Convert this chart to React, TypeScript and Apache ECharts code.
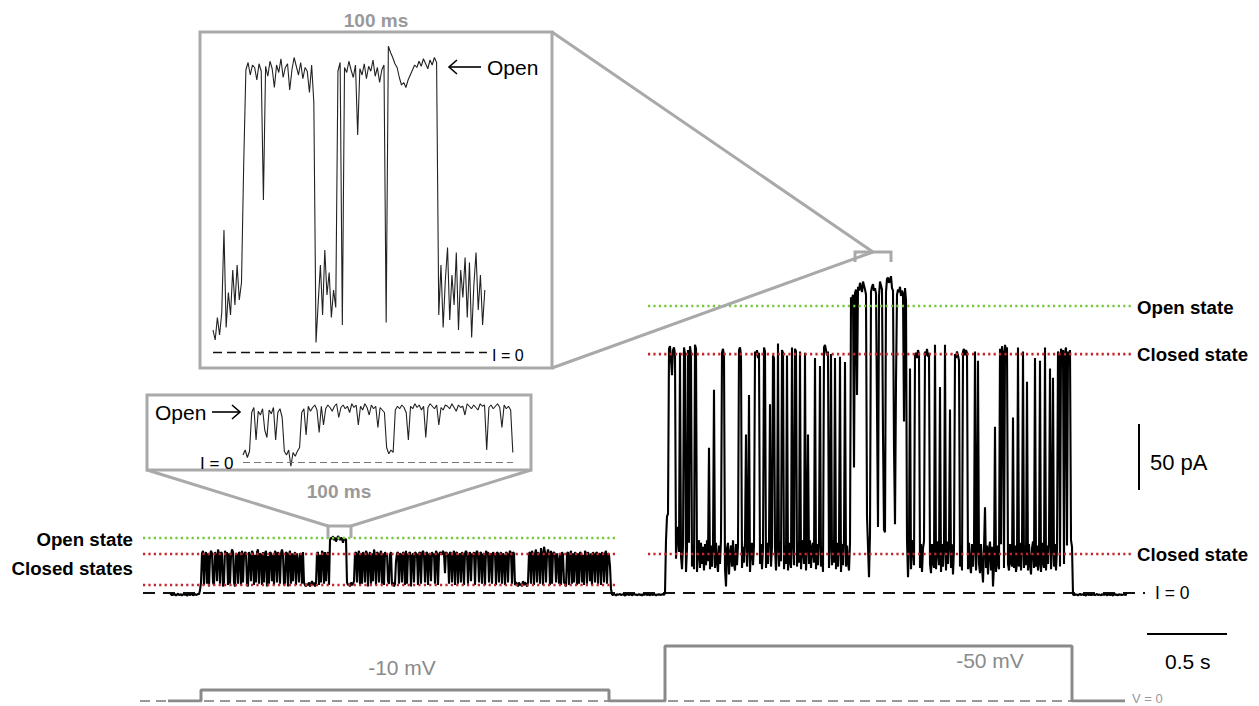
import React, { useEffect, useRef } from "react";
import * as echarts from "echarts";

// ---- main recording: sampled current (pA), one sample every SAMPLE_MS ----
const SAMPLE_MS = 6.25;

const BASELINE_PRE = [-1.2, -0.6, -1.8, -1.0, -1.5, -0.8, -2.0, -1.1, -0.5, -1.6,
  -1.3, -0.9, -1.9, -1.2, -0.7, -1.5, -1.0, -2.1, -1.3, -0.8,
  -1.6, -1.1, -0.6, -1.8, -1.4, -0.9, -1.5, -1.2, -0.7, -1.0];

const SEG_MINUS10 = [
  2, 8, 30, 32, 6, 29, 31, 7, 30, 5, 28, 32, 30, 8, 6, 31, 29, 9, 33, 30,
  7, 31, 30, 5, 8, 32, 29, 31, 6, 30, 7, 28, 33, 31, 8, 5, 30, 29, 7, 31,
  30, 6, 32, 8, 29, 31, 30, 7, 5, 31, 28, 9, 32, 30, 6, 29, 8, 31, 33, 7,
  30, 29, 6, 31, 8, 30, 32, 5, 28, 7, 31, 30, 9, 29, 6, 32, 30, 8, 31, 28,
  7, 30, 33, 29, 6, 8, 31, 30, 5, 29, 32, 7, 30, 9, 28, 31, 6, 30, 24, 8,
  30, 29, 7, 31, 8, 6, 5, 7, 6, 8, 5, 7, 9, 6, 8, 5, 7, 30, 31, 6,
  29, 8, 32, 30, 7, 31, 9, 28, 31, 6, 40, 42, 41, 43, 40, 42, 39, 41, 43, 42,
  40, 42, 41, 38, 42, 40, 41, 8, 6, 7, 5, 8, 6, 7, 9, 30, 31, 8, 29, 32,
  6, 30, 7, 31, 29, 8, 32, 30, 5, 28, 31, 7, 30, 9, 33, 29, 6, 31, 30, 8,
  29, 32, 7, 30, 6, 31, 28, 30, 9, 7, 29, 31, 6, 8, 5, 7, 24, 30, 31, 7,
  30, 29, 8, 31, 30, 6, 32, 7, 29, 30, 31, 5, 28, 30, 8, 31, 30, 29, 6, 30,
  31, 7, 30, 32, 29, 8, 30, 31, 6, 29, 30, 9, 31, 28, 30, 7, 32, 30, 6, 29,
  31, 30, 29, 32, 30, 15, 31, 30, 29, 7, 31, 30, 8, 29, 32, 6, 30, 31, 7, 28,
  30, 8, 31, 29, 6, 30, 32, 30, 7, 29, 31, 9, 30, 28, 31, 6, 30, 32, 29, 8,
  30, 31, 7, 29, 30, 6, 32, 30, 31, 8, 28, 30, 7, 31, 29, 30, 6, 31, 30, 8,
  29, 31, 7, 30, 28, 6, 31, 30, 8, 29, 32, 30, 7, 31, 30, 6, 8, 7, 5, 8,
  6, 7, 5, 9, 6, 8, 7, 5, 8, 30, 31, 7, 32, 29, 6, 30, 33, 8, 31, 29,
  7, 34, 30, 6, 35, 31, 8, 29, 33, 30, 6, 32, 7, 30, 31, 29, 8, 30, 24, 7,
  30, 6, 31, 29, 8, 7, 5, 30, 31, 6, 29, 32, 7, 30, 8, 31, 29, 6, 30, 7,
  31, 30, 8, 29, 6, 32, 30, 7, 31, 28, 9, 30, 6, 31, 29, 8, 30, 31, 7, 29,
  30, 6, 31, 29, 8, 30, 32, 7, 30, 29, 20, 3];

const BASELINE_MID = [-1.0, -1.6, -0.7, -1.3, -1.9, -0.9, -1.4, -1.1, -0.6, -1.7,
  -1.2, -0.8, -1.5, -2.0, -1.0, -1.3, -0.7, -1.6, -1.1, -0.9,
  -1.8, -1.2, -0.6, -1.4, -1.0, -1.7, -1.3, -0.8, -1.5, -1.1,
  -2.0, -0.9, -1.4, -1.2, -0.7, -1.6, -1.0, -1.3, -1.8, -0.8,
  -1.1, -1.5, -0.6, -1.2, -1.9, -1.0, -1.4, -0.8, -1.6, -1.1,
  -1.3, -0.7, -1.5];

const SEG_MINUS50 = [
  0, 40, 58, 60, 185, 187, 176, 165, 184, 186,
  181, 26, 44, 50, 31, 182, 28, 18, 36, 186,
  181, 16, 34, 184, 38, 187, 181, 20, 36, 18,
  188, 185, 16, 34, 40, 19, 38, 22, 35, 17,
  37, 21, 40, 24, 110, 18, 36, 20, 34, 154,
  19, 38, 24, 16, 36, 22, 40, 182, 185, 179,
  18, 5, 34, 38, 14, 30, 36, 20, 40, 22,
  17, 37, 21, 36, 184, 186, 180, 19, 35, 23,
  39, 120, 20, 36, 150, 16, 33, 38, 21, 36,
  183, 180, 184, 178, 182, 22, 37, 18, 34, 186,
  183, 19, 38, 22, 40, 143, 20, 35, 180, 178,
  34, 17, 36, 189, 20, 39, 24, 184, 182, 18,
  36, 22, 180, 17, 38, 24, 19, 186, 37, 21,
  185, 183, 20, 38, 23, 183, 18, 35, 40, 22,
  182, 17, 36, 120, 22, 40, 19, 35, 38, 23,
  178, 18, 37, 21, 39, 172, 20, 35, 16, 186,
  188, 184, 180, 183, 19, 37, 181, 21, 40, 23,
  178, 18, 38, 20, 35, 179, 16, 37, 21, 40,
  175, 20, 36, 23, 17, 38, 224, 222, 226, 95,
  227, 230, 150, 232, 229, 235, 231, 228, 236, 233,
  230, 226, 58, 35, 12, 45, 228, 232, 234, 229,
  231, 227, 140, 50, 225, 236, 233, 230, 120, 48,
  46, 228, 238, 239, 235, 237, 240, 231, 229, 110,
  52, 160, 226, 230, 228, 232, 225, 229, 227, 130,
  231, 222, 40, 12, 36, 170, 18, 35, 40, 21,
  180, 182, 178, 184, 181, 19, 37, 16, 34, 39,
  183, 180, 185, 179, 182, 22, 15, 37, 23, 19,
  188, 18, 35, 39, 21, 156, 16, 37, 20, 34,
  188, 17, 39, 22, 36, 139, 19, 37, 14, 34,
  181, 178, 183, 180, 176, 20, 36, 17, 183, 185,
  180, 184, 182, 18, 38, 21, 15, 37, 20, 34,
  183, 17, 35, 176, 22, 15, 37, 20, 8, 34,
  65, 19, 36, 14, 33, 39, 17, 35, 5, 21,
  126, 16, 36, 22, 18, 185, 37, 187, 182, 19,
  188, 184, 186, 22, 17, 37, 23, 20, 133, 19,
  36, 16, 22, 186, 20, 38, 17, 34, 183, 19,
  36, 21, 160, 17, 37, 22, 14, 34, 39, 19,
  178, 20, 36, 17, 22, 176, 16, 38, 23, 19,
  186, 17, 36, 22, 39, 170, 18, 34, 163, 20,
  37, 17, 34, 183, 180, 20, 185, 181, 184, 22,
  182, 186, 36, 183, 180, 184, 40, 35];

const BASELINE_POST = [-1.1, -1.7, -0.8, -1.4, -1.0, -1.9, -1.2, -0.6, -1.5, -1.1,
  -0.9, -1.6, -1.3, -2.0, -0.8, -1.2, -1.5, -0.7, -1.8, -1.0,
  -1.4, -0.9, -1.6, -1.2, -0.6, -1.7, -1.1, -1.3, -1.9, -0.8,
  -1.5, -1.0, -1.4, -0.7, -1.8, -1.2, -1.0, -1.6, -0.9, -1.3,
  -2.0, -1.1, -0.7, -1.5, -1.2, -1.8, -0.9, -1.4, -1.0, -1.6,
  -1.2, -0.8, -1.5, -1.1, -1.3];

// ---- insets: 100 ms windows, one sample every INSET_SAMPLE_MS ----
const INSET_SAMPLE_MS = 0.8;

const INSET_MINUS50 = [
  18, 10, 28, 14, 32, 98, 20, 48, 30, 66, 38, 70, 42, 56,
  150,
  226, 232, 222, 230, 228, 218, 231, 225, 122, 229, 221, 233, 227, 212, 230, 224,
  235, 220, 228, 231, 210, 226, 236, 229, 222, 232, 219, 228, 225, 208, 230, 200,
  8,
  40, 70, 30, 82, 46, 64, 28, 50,
  36,
  225, 232, 22, 228, 224, 233, 226, 220, 230, 174, 227, 222, 231, 219, 229, 225,
  234, 221, 228, 216, 226, 230,
  24, 245,
  240, 236, 231, 228, 220, 214, 216, 212, 218, 222, 226, 230, 228, 233, 229, 235,
  231, 227, 234, 230, 236, 232,
  30, 70, 20, 58, 84, 26, 62, 38, 80, 18, 66, 44, 76, 28, 72, 12, 54, 80, 34, 62, 22, 50];

const INSET_MINUS10 = [
  6, 10, 4, 9,
  40, 44, 18, 41, 38, 43, 26, 20, 42, 39, 44, 18, 40, 43, 36,
  9, 6, 10, -3, 8, 5, 9, 12,
  40, 43, 22, 45, 41, 44, 46, 42, 24, 45, 30, 43, 46, 44, 41, 45, 47, 36, 44, 46,
  43, 45, 40, 47, 44, 46, 30, 45, 42, 47, 44, 38, 46, 43, 45, 28, 44, 42, 40,
  12, 7, 10, 8,
  42, 45, 43, 46, 44, 40, 18, 45, 43, 47, 44, 46, 42, 45, 20, 44, 47, 45, 43, 46,
  30, 44, 42, 46, 45, 43, 47, 44, 41, 46, 44, 45, 38, 47, 45, 43, 46, 44, 42, 47,
  45, 46, 10, 44, 46, 43, 45, 47, 44, 28, 46, 43, 45, 42,
  8];

// ---- state levels (pA) and the time spans of their guide lines (ms) ----
const LEVELS_MINUS10 = [41.7, 29.5, 6.1]; // open, closed upper, closed lower
const LEVELS_MINUS50 = [217.4, 181, 29.5]; // open, closed upper, closed lower
const SPAN_MINUS10 = [-168.75, 2800];
const SPAN_MINUS50 = [2987.5, 6012.5];
const ZERO_SPAN = [-168.75, 6093.75];

// ---- voltage protocol (mV) ----
const V_STEP_TIMES = [-12.5, 193.75, 2743.75, 3093.75, 5637.5, 5968.75];
const V_STEP_LEVELS = [0, -10, 0, -50, 0, 0];
const V_ZERO_SPAN = [-187.5, 5968.75];

// ---- scale bars ----
const SCALE_PA = [78, 128]; // 50 pA
const SCALE_PA_TIME = 6056.25;
const SCALE_MS = [6106.25, 6606.25]; // 500 ms
const SCALE_MS_LEVEL = -31;

const GREEN = "#74c93a";
const RED = "#c3262c";
const GRAY = "#a9a9a9";
const FONT = "'Liberation Sans', Arial, Helvetica, sans-serif";

function buildTrace(): number[][] {
  const all = [...BASELINE_PRE, ...SEG_MINUS10, ...BASELINE_MID, ...SEG_MINUS50, ...BASELINE_POST];
  return all.map((v, i) => [i * SAMPLE_MS, v]);
}

function buildInset(values: number[]): number[][] {
  return values.map((v, i) => [i * INSET_SAMPLE_MS, v]);
}

function buildVoltage(): number[][] {
  const pts: number[][] = [];
  for (let i = 0; i < V_STEP_TIMES.length; i++) {
    if (i > 0) pts.push([V_STEP_TIMES[i], V_STEP_LEVELS[i - 1]]);
    pts.push([V_STEP_TIMES[i], V_STEP_LEVELS[i]]);
  }
  return pts;
}

function levelLine(span: number[], level: number, color: string) {
  return {
    type: "line",
    xAxisIndex: 0,
    yAxisIndex: 0,
    data: [[span[0], level], [span[1], level]],
    showSymbol: false,
    silent: true,
    z: 5,
    lineStyle: { color, width: 2.6, type: [2.2, 3.2] },
  };
}

function txt(text: string, x: number, y: number, opts: any = {}) {
  const align = opts.align || "left";
  return {
    type: "text",
    silent: true,
    z: 10,
    style: {
      text,
      x,
      y,
      fill: opts.fill || "#000",
      font: `${opts.weight || "normal"} ${opts.size || 17}px ${FONT}`,
      align,
      textAlign: align,
      verticalAlign: "middle",
      textVerticalAlign: "middle",
    },
  };
}

function ln(x1: number, y1: number, x2: number, y2: number, stroke: string, lineWidth: number) {
  return { type: "line", silent: true, z: 8, shape: { x1, y1, x2, y2 }, style: { stroke, lineWidth } };
}

function pl(points: number[][], stroke: string, lineWidth: number) {
  return { type: "polyline", silent: true, z: 8, shape: { points }, style: { stroke, lineWidth, fill: "none" } };
}

export default function App() {
  const ref = useRef<HTMLDivElement>(null);

  useEffect(() => {
    if (!ref.current) return;
    const chart = echarts.init(ref.current, undefined, { renderer: "svg" });

    const hx = (gridIndex: number, min: number, max: number) => ({ type: "value", gridIndex, min, max, show: false });
    const hy = (gridIndex: number, min: number, max: number, inverse = false) => ({
      type: "value", gridIndex, min, max, inverse, show: false,
    });

    const option: any = {
      animation: false,
      backgroundColor: "#fff",
      grid: [
        { left: 140, top: 263, width: 1119, height: 376.2 },
        { left: 140, top: 640, width: 1119, height: 61 },
        { left: 213, top: 40, width: 274, height: 322.5 },
        { left: 243, top: 397.5, width: 272, height: 70 },
      ],
      xAxis: [hx(0, -187.5, 6806.25), hx(1, -187.5, 6806.25), hx(2, 0, 100), hx(3, 0, 100)],
      yAxis: [hy(0, -35, 250), hy(1, -55.45, 0, true), hy(2, -8, 250), hy(3, -4, 52)],
      series: [
        {
          type: "line", xAxisIndex: 0, yAxisIndex: 0, data: buildTrace(), showSymbol: false, silent: true, z: 3,
          lineStyle: { color: "#000", width: 2.1 },
        },
        {
          type: "line", xAxisIndex: 0, yAxisIndex: 0, data: [[ZERO_SPAN[0], 0], [ZERO_SPAN[1], 0]], showSymbol: false,
          silent: true, z: 2, lineStyle: { color: "#111", width: 2, type: [12, 8] },
        },
        levelLine(SPAN_MINUS10, LEVELS_MINUS10[0], GREEN),
        levelLine(SPAN_MINUS10, LEVELS_MINUS10[1], RED),
        levelLine(SPAN_MINUS10, LEVELS_MINUS10[2], RED),
        levelLine(SPAN_MINUS50, LEVELS_MINUS50[0], GREEN),
        levelLine(SPAN_MINUS50, LEVELS_MINUS50[1], RED),
        levelLine(SPAN_MINUS50, LEVELS_MINUS50[2], RED),
        {
          type: "line", xAxisIndex: 0, yAxisIndex: 0, data: [[SCALE_PA_TIME, SCALE_PA[0]], [SCALE_PA_TIME, SCALE_PA[1]]],
          showSymbol: false, silent: true, lineStyle: { color: "#000", width: 2 },
        },
        {
          type: "line", xAxisIndex: 0, yAxisIndex: 0, data: [[SCALE_MS[0], SCALE_MS_LEVEL], [SCALE_MS[1], SCALE_MS_LEVEL]],
          showSymbol: false, silent: true, lineStyle: { color: "#000", width: 2 },
        },
        {
          type: "line", xAxisIndex: 1, yAxisIndex: 1, data: [[V_ZERO_SPAN[0], 0], [V_ZERO_SPAN[1], 0]], showSymbol: false,
          silent: true, z: 2, lineStyle: { color: "#999", width: 2, type: [10, 6] },
        },
        {
          type: "line", xAxisIndex: 1, yAxisIndex: 1, data: buildVoltage(), showSymbol: false, silent: true, z: 3,
          lineStyle: { color: "#8a8a8a", width: 3 },
        },
        {
          type: "line", xAxisIndex: 2, yAxisIndex: 2, data: buildInset(INSET_MINUS50), showSymbol: false, silent: true,
          z: 3, lineStyle: { color: "#222", width: 1.1 },
        },
        {
          type: "line", xAxisIndex: 2, yAxisIndex: 2, data: [[0, 0], [100, 0]], showSymbol: false, silent: true,
          lineStyle: { color: "#111", width: 1.6, type: [9, 5] },
        },
        {
          type: "line", xAxisIndex: 3, yAxisIndex: 3, data: buildInset(INSET_MINUS10), showSymbol: false, silent: true,
          z: 3, lineStyle: { color: "#222", width: 1.1 },
        },
        {
          type: "line", xAxisIndex: 3, yAxisIndex: 3, data: [[0, 0], [99.3, 0]], showSymbol: false, silent: true,
          lineStyle: { color: "#777", width: 1, type: [7, 4] },
        },
      ],
      graphic: [
        // upper inset frame and zoom lines
        { type: "rect", silent: true, z: 7, shape: { x: 200, y: 32, width: 352, height: 336 }, style: { fill: "none", stroke: GRAY, lineWidth: 3 } },
        ln(552, 32, 873, 252, GRAY, 3),
        ln(552, 368, 873, 252, GRAY, 3),
        pl([[855, 262], [855, 252], [891, 252], [891, 262]], GRAY, 3),
        txt("100 ms", 376, 20, { weight: "bold", size: 19, fill: "#999", align: "center" }),
        ln(449, 67, 481, 67, "#000", 1.6),
        pl([[457, 60], [449, 67], [457, 74]], "#000", 1.6),
        txt("Open", 487, 67, { size: 21 }),
        txt("I = 0", 492, 355, { size: 16 }),
        // lower inset frame and zoom lines
        { type: "rect", silent: true, z: 7, shape: { x: 147, y: 395, width: 384, height: 75 }, style: { fill: "none", stroke: GRAY, lineWidth: 3 } },
        ln(147, 470, 328, 526, GRAY, 3),
        ln(531, 470, 351, 526, GRAY, 3),
        pl([[328, 538], [328, 526], [351, 526], [351, 538]], GRAY, 3),
        txt("100 ms", 339, 491, { weight: "bold", size: 19, fill: "#999", align: "center" }),
        txt("Open", 155, 412, { size: 21 }),
        ln(212, 412, 240, 412, "#000", 1.6),
        pl([[232, 405], [240, 412], [232, 419]], "#000", 1.6),
        txt("I = 0", 200, 463, { size: 17 }),
        // state labels
        txt("Open state", 133, 539, { weight: "bold", size: 18.7, align: "right" }),
        txt("Closed states", 133, 568, { weight: "bold", size: 18.7, align: "right" }),
        txt("Open state", 1137, 307, { weight: "bold", size: 18.7 }),
        txt("Closed state", 1137, 354, { weight: "bold", size: 18.7 }),
        txt("Closed state", 1137, 554, { weight: "bold", size: 18.7 }),
        txt("I = 0", 1155, 593, { size: 17.5 }),
        txt("50 pA", 1150, 462, { size: 22 }),
        txt("0.5 s", 1165, 661, { size: 21 }),
        txt("-10 mV", 402, 667, { size: 21, fill: "#8a8a8a", align: "center" }),
        txt("-50 mV", 990, 660, { size: 21, fill: "#8a8a8a", align: "center" }),
        txt("V = 0", 1132, 698, { size: 13, fill: "#999" }),
      ],
    };

    chart.setOption(option);
    return () => chart.dispose();
  }, []);

  return (
    <div
      ref={ref}
      style={{ position: "fixed", left: 0, top: 0, width: 1259, height: 706, background: "#fff" }}
    />
  );
}
